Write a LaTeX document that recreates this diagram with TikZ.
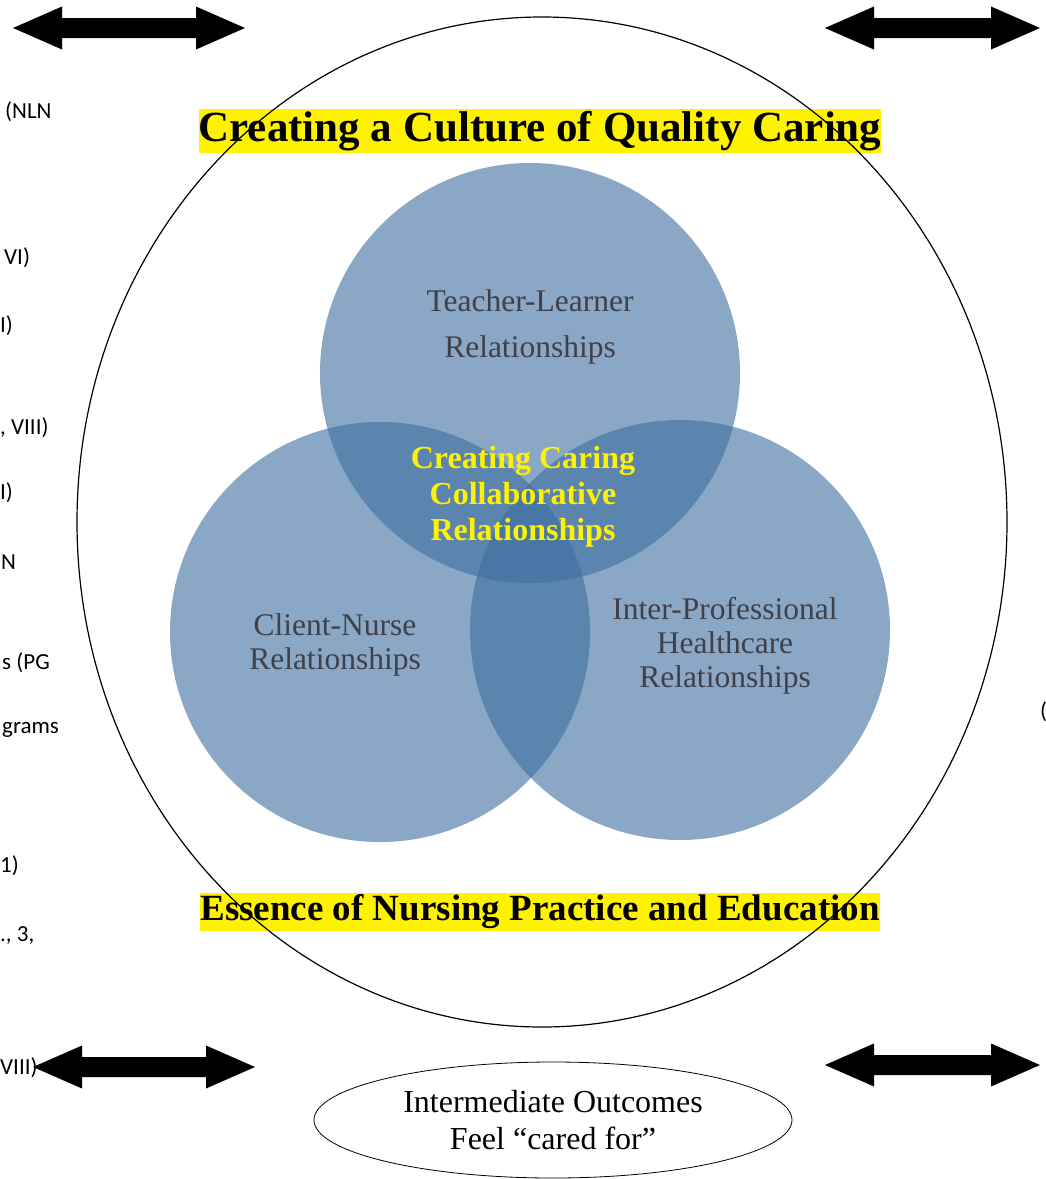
\documentclass[tikz,border=0pt]{standalone}
\usepackage{fontspec}
\setmainfont{Liberation Serif}
\newfontfamily\fragfont{Carlito}
\usetikzlibrary{shapes.geometric}
\definecolor{RelBlue}{RGB}{60,110,160}
\definecolor{LabelGray}{RGB}{64,64,72}

\begin{document}
\begin{tikzpicture}[x=1pt, y=-1pt]
  \tikzset{
    bub/.style={circle, minimum size=420pt, inner sep=0pt, fill=RelBlue, fill opacity=0.6},
    lbl/.style={align=center, text=LabelGray, font=\fontsize{31.5}{34}\selectfont},
    hl/.style={fill=yellow, inner xsep=0pt, inner ysep=2pt},
    frag/.style={anchor=west, inner sep=0pt, font=\fragfont\fontsize{23}{26}\selectfont},
    outc/.style={ellipse, draw, thick, minimum width=478pt, minimum height=116pt, align=center, font=\fontsize{32}{37}\selectfont}
  }
  \clip (0,0) rectangle (1046,1179);
  \fill[white] (0,0) rectangle (1046,1179);

  \node[frag] (f1) at (5,112) {(NLN};
  \node[frag] (f2) at (4,258) {VI)};
  \node[frag] (f3) at (0,326) {I)};
  \node[frag] (f4) at (0,428) {, VIII)};
  \node[frag] (f5) at (0,493) {I)};
  \node[frag] (f6) at (1,562) {N};
  \node[frag] (f7) at (2,663) {s (PG};
  \node[frag] (f8) at (2,730) {grams};
  \node[frag] (f9) at (0,866) {1)};
  \node[frag] (f10) at (0,935) {., 3,};
  \node[frag] (f11) at (0,1068) {VIII)};
  \node[frag] (f12) at (1040,712) {(};

  \node[bub] (tl) at (530,373) {};
  \node[bub] (cn) at (380,632) {};
  \node[bub] (ip) at (680,630) {};

  \node[lbl, font=\fontsize{31.5}{46}\selectfont] (tltext) at (530,327) {Teacher-Learner\\Relationships};
  \node[lbl] (cntext) at (335,645) {Client-Nurse\\Relationships};
  \node[lbl] (iptext) at (725,646) {Inter-Professional\\Healthcare\\Relationships};
  \node[align=center, text=yellow, font=\bfseries\fontsize{32}{36}\selectfont] (core) at (523,497)
    {Creating Caring\\Collaborative\\Relationships};

  \node[hl, font=\bfseries\fontsize{43}{47}\selectfont] (title) at (540,131) {Creating a Culture of Quality Caring};
  \node[hl, font=\bfseries\fontsize{37}{41}\selectfont] (essence) at (540,912) {Essence of Nursing Practice and Education};

  \draw[line width=1.2pt] (542,522) ellipse [x radius=465, y radius=505];

  \node[outc] (outcome) at (553,1120) {Intermediate Outcomes\\Feel ``cared for''};

  \foreach \xa/\xb/\yc in {13/245/28, 825/1040/28, 33/255/1067, 825/1040/1065}
    \fill (\xa,\yc) -- (\xa+49,\yc-21.5) -- (\xa+49,\yc-10) -- (\xb-49,\yc-10) -- (\xb-49,\yc-21.5)
      -- (\xb,\yc) -- (\xb-49,\yc+21.5) -- (\xb-49,\yc+10) -- (\xa+49,\yc+10) -- (\xa+49,\yc+21.5) -- cycle;
\end{tikzpicture}
\end{document}
